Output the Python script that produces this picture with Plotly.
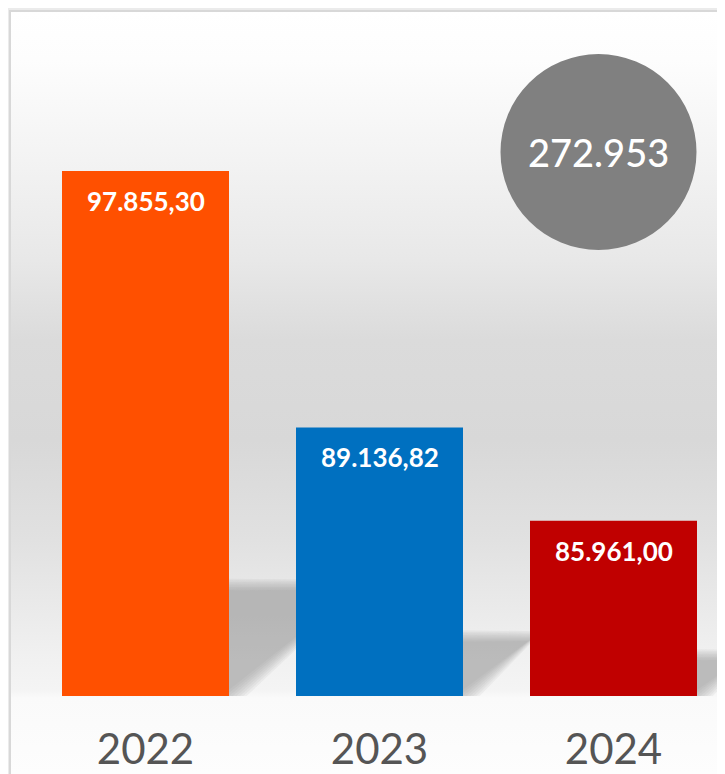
import base64
import plotly.graph_objects as go

# data
years = ["2022", "2023", "2024"]
values = [97855.30, 89136.82, 85961.00]
bar_colors = ["#ff5000", "#0070c0", "#c00000"]


def de_num(v, dec=2):
    s = f"{v:,.{dec}f}"
    return s.replace(",", "X").replace(".", ",").replace("X", ".")


# page has an 8px body margin, so the figure is 8px smaller and shifted
OFF = 8
W, H = 725 - OFF, 774 - OFF
TOP, BOTTOM = 108 - OFF, 696 - OFF   # plot area in pixels
Y0, Y1 = 80000, 100000
PX_PER_UNIT = (BOTTOM - TOP) / (Y1 - Y0)
CAT_PX = 234.0                        # pixels per category
X0 = -(145.5 - OFF) / CAT_PX
X1 = X0 + W / CAT_PX
BAR_W = 167 / CAT_PX

# background card with vertical gradient (svg -> layout image)
stops = [(3, "#ffffff"), (52, "#fdfdfd"), (152, "#f3f3f3"), (252, "#e8e8e8"),
         (332, "#dbdbdb"), (432, "#d8d8d8"), (532, "#e1e1e1"), (592, "#e9e9e9"),
         (652, "#f1f1f1"), (682, "#f4f4f4"), (690, "#fafafa"), (766, "#fdfdfd")]
stop_xml = "".join(
    f'<stop offset="{(y - 3) / (766 - 3):.4f}" stop-color="{c}"/>' for y, c in stops)
svg = (f'<svg xmlns="http://www.w3.org/2000/svg" width="{W}" height="{H}">'
       f'<defs><linearGradient id="g" gradientUnits="userSpaceOnUse" x1="0" y1="3" x2="0" y2="766">'
       f'{stop_xml}</linearGradient></defs>'
       f'<rect width="{W}" height="{H}" fill="#ebebeb"/>'
       f'<rect x="2" y="3" width="{W + 20}" height="{H + 20}" fill="url(#g)" stroke="#d8d8d8" stroke-width="2"/>'
       '</svg>')
bg_src = "data:image/svg+xml;base64," + base64.b64encode(svg.encode()).decode()

fig = go.Figure()
fig.add_trace(go.Bar(
    x=years, y=values,
    marker=dict(color=bar_colors, line_width=0),
    width=BAR_W,
    hoverinfo="skip",
))

# soft cast shadows behind the bars
shapes = []
for i, v in enumerate(values):
    h_px = (v - Y0) * PX_PER_UNIT
    s = 0.2 * h_px + 4
    dx = 1.2 * s
    L, R = i - BAR_W / 2, i + BAR_W / 2
    for k in range(8):
        g = (7 - k) * 2.0 - 4   # layers from grown to shrunk -> blurred edge
        pts = [
            (L, 0 - g),
            (R + g / CAT_PX * 0.7, 0 - g),
            (R + (dx + g) / CAT_PX, s + g * 0.7),
            (L, s + g),
        ]
        path = "M " + " L ".join(
            f"{x:.4f},{Y0 + y / PX_PER_UNIT:.1f}" for x, y in pts) + " Z"
        shapes.append(dict(type="path", path=path, xref="x", yref="y",
                           fillcolor="rgba(140,140,140,0.085)", line_width=0,
                           layer="below"))

# total bubble
cx, cy, r = 598.5 - OFF, 152 - OFF, 98
shapes.append(dict(type="circle", xref="paper", yref="paper",
                   x0=(cx - r) / W, x1=(cx + r) / W,
                   y0=(BOTTOM - cy - r) / (BOTTOM - TOP), y1=(BOTTOM - cy + r) / (BOTTOM - TOP),
                   fillcolor="#808080", line_width=0))

annotations = [dict(x=i, y=v, xref="x", yref="y", text=de_num(v), showarrow=False,
                    xanchor="center", yanchor="middle", yshift=-30,
                    font=dict(family="Lato", size=26, color="white", weight=700))
               for i, v in enumerate(values)]
annotations.append(dict(x=cx / W, y=(BOTTOM - cy) / (BOTTOM - TOP), xref="paper", yref="paper",
                        xanchor="center", yanchor="middle",
                        text=de_num(round(sum(values)), 0), showarrow=False,
                        font=dict(family="Lato", size=38, color="white", weight=500)))

fig.update_layout(
    width=W, height=H,
    margin=dict(l=0, r=0, t=TOP, b=H - BOTTOM, pad=0),
    paper_bgcolor="#ebebeb",
    plot_bgcolor="rgba(0,0,0,0)",
    showlegend=False,
    shapes=shapes,
    annotations=annotations,
    images=[dict(source=bg_src, xref="paper", yref="paper", x=0,
                 y=1 + TOP / (BOTTOM - TOP), sizex=1, sizey=H / (BOTTOM - TOP),
                 xanchor="left", yanchor="top", sizing="stretch", layer="below")],
    xaxis=dict(type="category", range=[X0, X1], showgrid=False, zeroline=False,
               showline=False, ticks="", ticklabelstandoff=25,
               tickfont=dict(family="Lato", size=42, color="#555555")),
    yaxis=dict(range=[Y0, Y1], visible=False, fixedrange=True),
)

fig.write_html("out.html")
